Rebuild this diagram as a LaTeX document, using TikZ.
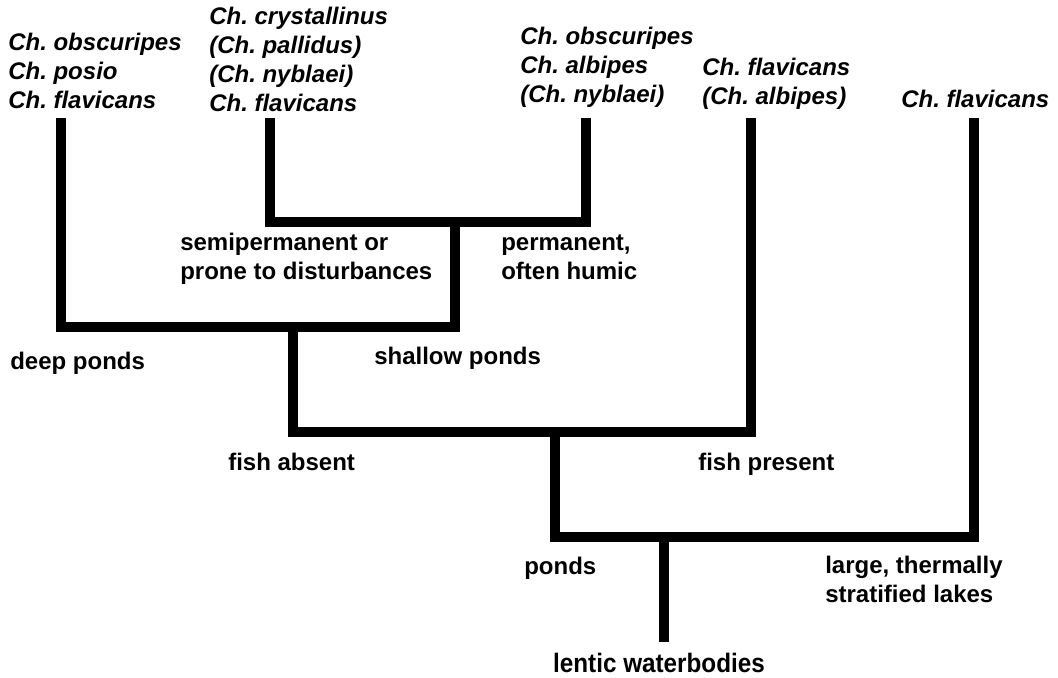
\documentclass[tikz,border=0pt]{standalone}
\usepackage{graphicx}
\usepackage{fontspec}
\setmainfont{Liberation Sans}
\frenchspacing
\begin{document}
\begin{tikzpicture}[x=0.75pt,y=-0.75pt,
    branch/.style={line width=7.2pt},
    species/.style={anchor=base west,inner sep=0pt,align=left,font=\fontsize{18}{21.75}\selectfont\bfseries\itshape},
    habitat/.style={anchor=base west,inner sep=0pt,align=left,font=\fontsize{18}{21.75}\selectfont\bfseries}]
  \useasboundingbox (0,0) rectangle (1058,678);
  \node[species] (deepspp) at (8,108) {Ch. obscuripes\\Ch. posio\\Ch. flavicans};
  \node[species] (semispp) at (209,111) {Ch. crystallinus\\(Ch. pallidus)\\(Ch. nyblaei)\\Ch. flavicans};
  \node[species] (permspp) at (520,102) {Ch. obscuripes\\Ch. albipes\\(Ch. nyblaei)};
  \node[species] (fishspp) at (702,104) {Ch. flavicans\\(Ch. albipes)};
  \node[species] (lakespp) at (901,107) {Ch. flavicans};

  \coordinate (tA) at (61,118);
  \coordinate (tB) at (270,118);
  \coordinate (tC) at (586,118);
  \coordinate (tD) at (751,118);
  \coordinate (tE) at (974,118);
  \coordinate (nPerm) at (455,222);
  \coordinate (nDepth) at (293,327);
  \coordinate (nFish) at (555,432);
  \coordinate (nLake) at (664,537);
  \coordinate (nRoot) at (664,642);

  \draw[branch] (tB) |- (nPerm) -| (tC);
  \draw[branch] (tA) |- (nDepth) -| (nPerm);
  \draw[branch] (nDepth) |- (nFish) -| (tD);
  \draw[branch] (nFish) |- (nLake) -| (tE);
  \draw[branch] (nLake) -- (nRoot);

  \node[habitat] (semi) at (180,279) {semipermanent or\\prone to disturbances};
  \node[habitat] (perm) at (501,279) {permanent,\\often humic};
  \node[habitat] (deep) at (10,369) {deep ponds};
  \node[habitat] (shallow) at (374,364) {shallow ponds};
  \node[habitat] (nofish) at (228,470) {fish absent};
  \node[habitat] (withfish) at (698,470) {fish present};
  \node[habitat] (ponds) at (524,574) {ponds};
  \node[habitat] (lakes) at (825,602) {large, thermally\\stratified lakes};
  \node[habitat,anchor=base,font=\fontsize{20}{24}\selectfont\bfseries] (lentic) at (659,672) {\scalebox{0.91}[1]{lentic waterbodies}};
\end{tikzpicture}
\end{document}
